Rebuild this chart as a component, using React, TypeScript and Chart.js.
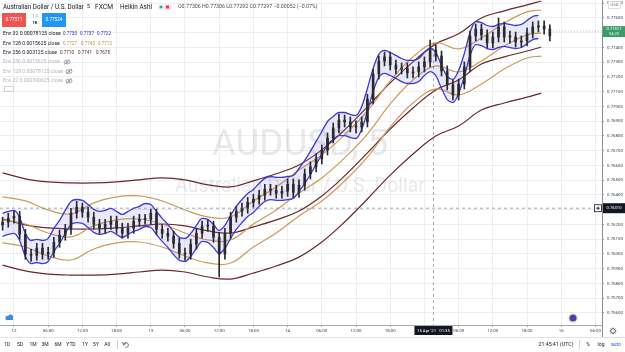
import React, { useEffect, useRef } from "react";
import { Chart, registerables } from "chart.js";

Chart.register(...registerables);

const FONT = "Roboto, 'Liberation Sans', 'DejaVu Sans', sans-serif";

// ---- data (hours since 12 Apr 2021 00:00 UTC), hourly Heikin Ashi summary ----
const hours = [
  -2, -1, 0, 1, 2, 3, 4, 5, 6, 7, 8, 9, 10, 11, 12, 13, 14, 15, 16, 17, 18, 19, 20, 21, 22, 23, 24,
  25, 26, 27, 28, 29, 30, 31, 32, 33, 34, 35, 36, 37, 38, 39, 40, 41, 42, 43, 44, 45, 46, 47, 48,
  49, 50, 51, 52, 53, 54, 55, 56, 57, 58, 59, 60, 61, 62, 63, 64, 65, 66, 67, 68, 69, 70, 71, 72,
  73, 74, 75, 76, 77, 78, 79, 80, 81, 82, 83, 84, 85, 86, 87, 88, 89, 90, 91, 92, 93, 94,
];
const haFirstOpen = 0.76197;
const haClose = [
  0.76215, 0.76242, 0.76256, 0.76133, 0.75998, 0.75991, 0.76039, 0.75998, 0.76011, 0.76079,
  0.76127, 0.76167, 0.76276, 0.76317, 0.76283, 0.76249, 0.76201, 0.76174, 0.76201, 0.76222,
  0.76174, 0.7614, 0.76174, 0.76222, 0.76235, 0.76235, 0.76276, 0.76167, 0.7614, 0.7612,
  0.76072, 0.76005, 0.75998, 0.76066, 0.7614, 0.76188, 0.76188, 0.76113, 0.75998, 0.7614,
  0.76249, 0.76289, 0.7631, 0.7635, 0.76371, 0.76398, 0.76439, 0.76432, 0.76411, 0.76425,
  0.76472, 0.76418, 0.76466, 0.76542, 0.7659, 0.76644, 0.76705, 0.76786, 0.76854, 0.76908,
  0.76895, 0.76861, 0.76861, 0.76895, 0.77051, 0.7722, 0.77308, 0.77336, 0.77281, 0.77254,
  0.77261, 0.77227, 0.77234, 0.77268, 0.77302, 0.77383, 0.77342, 0.77241, 0.77146, 0.77078,
  0.77152, 0.77268, 0.77478, 0.77525, 0.77485, 0.7743, 0.77471, 0.77539, 0.77471, 0.77471,
  0.77437, 0.77444, 0.77498, 0.77539, 0.77546, 0.77525, 0.77478,
];
const haHigh = [
  0.76249, 0.76276, 0.76289, 0.76289, 0.76167, 0.76032, 0.76072, 0.76072, 0.76045, 0.76113,
  0.76161, 0.76201, 0.7631, 0.76357, 0.76344, 0.76317, 0.76283, 0.76235, 0.76235, 0.76256,
  0.76256, 0.76208, 0.76208, 0.76256, 0.76269, 0.76269, 0.76303, 0.76303, 0.76201, 0.76174,
  0.76154, 0.76106, 0.76039, 0.761, 0.76174, 0.76222, 0.76228, 0.76222, 0.76147, 0.76174,
  0.76283, 0.76323, 0.76344, 0.76384, 0.76405, 0.76432, 0.76472, 0.76472, 0.76466, 0.76459,
  0.76508, 0.76508, 0.76502, 0.76576, 0.76624, 0.76678, 0.76739, 0.7682, 0.76888, 0.76949,
  0.76942, 0.76929, 0.76902, 0.76929, 0.77083, 0.77254, 0.77342, 0.77369, 0.77369, 0.77315,
  0.77295, 0.77295, 0.77268, 0.77302, 0.77336, 0.77451, 0.77417, 0.77376, 0.77275, 0.7718,
  0.77186, 0.77302, 0.77512, 0.77559, 0.77559, 0.77519, 0.77505, 0.776, 0.77573, 0.77512,
  0.77505, 0.77478, 0.77532, 0.77573, 0.7758, 0.7758, 0.77553,
];
const haLow = [
  0.76161, 0.76181, 0.76208, 0.761, 0.75964, 0.7595, 0.75957, 0.75964, 0.75964, 0.75978,
  0.76045, 0.76093, 0.76133, 0.76242, 0.76249, 0.76215, 0.76167, 0.7614, 0.7614, 0.76167,
  0.7614, 0.76106, 0.76106, 0.7614, 0.76188, 0.76201, 0.76201, 0.76133, 0.76106, 0.76086,
  0.76039, 0.75971, 0.75957, 0.75964, 0.76032, 0.76106, 0.76154, 0.76079, 0.75844, 0.75964,
  0.76106, 0.76215, 0.76256, 0.76276, 0.76317, 0.76337, 0.76364, 0.76398, 0.76378, 0.76378,
  0.76391, 0.76384, 0.76384, 0.76432, 0.76508, 0.76556, 0.7661, 0.76671, 0.76753, 0.7682,
  0.76861, 0.76827, 0.7682, 0.76827, 0.76861, 0.77017, 0.77186, 0.77275, 0.77247, 0.7722,
  0.7722, 0.77193, 0.77193, 0.772, 0.77234, 0.77268, 0.77308, 0.77207, 0.77112, 0.77044,
  0.77044, 0.77119, 0.77234, 0.77444, 0.77451, 0.77397, 0.77397, 0.77437, 0.77437, 0.7743,
  0.77403, 0.77403, 0.7741, 0.77464, 0.77505, 0.77491, 0.77444,
];

// Env 32 basis (hourly, same hours as candles, up to hour 92)
const env32Basis = [
  0.76197, 0.7621, 0.76217, 0.76169, 0.76061, 0.76013, 0.7602, 0.76013, 0.76027, 0.76095,
  0.76149, 0.76217, 0.76278, 0.76291, 0.76285, 0.76257, 0.76224, 0.7621, 0.76217, 0.76231,
  0.7621, 0.7619, 0.7621, 0.76231, 0.76244, 0.76264, 0.76257, 0.7621, 0.76163, 0.76122,
  0.76074, 0.76034, 0.76027, 0.76061, 0.76115, 0.76163, 0.76156, 0.76122, 0.76081, 0.76115,
  0.76183, 0.76244, 0.76291, 0.76332, 0.76359, 0.764, 0.76434, 0.76447, 0.76441, 0.76441,
  0.76447, 0.76454, 0.76502, 0.76556, 0.76617, 0.76685, 0.76752, 0.7682, 0.76854, 0.76881,
  0.76881, 0.76868, 0.76861, 0.76922, 0.77044, 0.7718, 0.77275, 0.77302, 0.77288, 0.77268,
  0.77247, 0.77234, 0.77234, 0.77247, 0.77288, 0.77315, 0.77288, 0.772, 0.77125, 0.77105,
  0.77166, 0.77281, 0.77424, 0.77498, 0.77491, 0.77471, 0.77464, 0.77478, 0.77485, 0.77478,
  0.77471, 0.77478, 0.77505, 0.77532, 0.77539,
];
// slow envelopes sampled every 4 hours
const slowHours = [-2, 2, 6, 10, 14, 18, 22, 26, 30, 34, 38, 42, 46, 50, 54, 58, 62, 66, 70, 74, 78, 82, 86, 90, 92.5];
const env128Basis = [
  0.76231, 0.76203, 0.76142, 0.76115, 0.7619, 0.76231, 0.76237, 0.76203, 0.76142, 0.76095,
  0.76095, 0.76203, 0.76298, 0.76413, 0.76515, 0.76651, 0.76813, 0.77017, 0.7718, 0.77275,
  0.77234, 0.77308, 0.7741, 0.77485, 0.77498,
];
const env256Basis = [
  0.76237, 0.76197, 0.76176, 0.76169, 0.76169, 0.76176, 0.7619, 0.76203, 0.7619, 0.76156,
  0.76142, 0.76183, 0.76231, 0.76291, 0.76393, 0.76529, 0.76685, 0.76847, 0.7699, 0.77112,
  0.7718, 0.77288, 0.77336, 0.77376, 0.77403,
];
const ENV32_OFFSET = 0.00078125;
const ENV128_OFFSET = 0.0015625;
const ENV256_OFFSET = 0.003125;

const xTickHours = [0, 6, 12, 18, 24, 30, 36, 42, 48, 54, 60, 66, 72, 78, 84, 90, 96, 102];
const xTickLabels = ["12", "06:00", "12:00", "18:00", "13", "06:00", "12:00", "18:00", "14", "06:00", "12:00", "18:00", "15", "06:00", "12:00", "18:00", "16", "06:00"];
const yTicks = [
  0.756, 0.757, 0.758, 0.759, 0.76, 0.761, 0.762, 0.763, 0.764, 0.765, 0.766,
  0.767, 0.768, 0.769, 0.77, 0.771, 0.772, 0.773, 0.774, 0.775, 0.776, 0.777,
];

const CROSS_HOUR = 73.583;
const CROSS_PRICE = 0.7631;
const LAST_PRICE = 0.77511;

// ---- colours ----
const C_CANDLE = "#2a2a2a";
const C_ENV32 = "#3b3bcf";
const C_ENV128 = "#cc9b5a";
const C_ENV256 = "#6b2828";

function fitText(ctx: CanvasRenderingContext2D, text: string, x: number, y: number, w: number, color: string, align: CanvasTextAlign = "left", weight = "normal") {
  ctx.font = `${weight} 10px ${FONT}`;
  const m = ctx.measureText(text).width || 1;
  const size = (10 * w) / m;
  ctx.font = `${weight} ${size}px ${FONT}`;
  ctx.fillStyle = color;
  ctx.textAlign = align;
  ctx.textBaseline = "middle";
  ctx.fillText(text, x, y);
}

function sizedText(ctx: CanvasRenderingContext2D, text: string, x: number, y: number, size: number, color: string, align: CanvasTextAlign = "left", weight = "normal") {
  ctx.font = `${weight} ${size}px ${FONT}`;
  ctx.fillStyle = color;
  ctx.textAlign = align;
  ctx.textBaseline = "middle";
  ctx.fillText(text, x, y);
}

function eye(ctx: CanvasRenderingContext2D, x: number, y: number) {
  ctx.save();
  ctx.strokeStyle = "#8f929b";
  ctx.fillStyle = "#8f929b";
  ctx.lineWidth = 0.8;
  ctx.beginPath();
  ctx.ellipse(x, y, 3, 1.9, 0, 0, Math.PI * 2);
  ctx.stroke();
  ctx.beginPath();
  ctx.arc(x, y, 0.9, 0, Math.PI * 2);
  ctx.fill();
  ctx.beginPath();
  ctx.moveTo(x - 3, y + 2.5);
  ctx.lineTo(x + 3, y - 2.5);
  ctx.stroke();
  ctx.restore();
}

const overlayPlugin = {
  id: "tvOverlay",
  beforeDatasetsDraw(chart: any) {
    const { ctx, chartArea } = chart;
    ctx.save();
    ctx.beginPath();
    ctx.rect(chartArea.left, chartArea.top, chartArea.right - chartArea.left, chartArea.bottom - chartArea.top);
    ctx.clip();
    fitText(ctx, "AUDUSD, 5", 300, 146, 176, "rgba(120,123,134,0.17)", "center");
    fitText(ctx, "Australian Dollar / U.S. Dollar", 300, 187, 250, "rgba(120,123,134,0.17)", "center");
    ctx.restore();
  },
  afterDatasetsDraw(chart: any) {
    const { ctx, chartArea, scales } = chart;
    const cx = scales.x.getPixelForValue(CROSS_HOUR);
    const cy = scales.y.getPixelForValue(CROSS_PRICE);
    const py = scales.y.getPixelForValue(LAST_PRICE);
    ctx.save();
    ctx.strokeStyle = "rgba(110,113,124,0.75)";
    ctx.lineWidth = 0.8;
    ctx.setLineDash([3, 3]);
    ctx.beginPath();
    ctx.moveTo(cx, chartArea.top);
    ctx.lineTo(cx, chartArea.bottom);
    ctx.moveTo(chartArea.left, cy);
    ctx.lineTo(chartArea.right, cy);
    ctx.stroke();
    ctx.strokeStyle = "rgba(60,150,100,0.6)";
    ctx.setLineDash([1, 2]);
    ctx.beginPath();
    ctx.moveTo(scales.x.getPixelForValue(hours[hours.length - 1]), py);
    ctx.lineTo(chartArea.right, py);
    ctx.stroke();
    ctx.restore();
  },
  afterDraw(chart: any) {
    const { ctx, chartArea, scales } = chart;
    ctx.save();
    // ---- top-left legend ----
    fitText(ctx, "Australian Dollar / U.S. Dollar", 3, 7, 81, "#131722");
    fitText(ctx, "5", 87, 7, 3, "#131722");
    fitText(ctx, "FXCM", 95, 7, 18, "#131722");
    fitText(ctx, "Heikin Ashi", 120, 7, 32, "#131722");
    ctx.fillStyle = "rgba(38,166,154,0.25)";
    ctx.beginPath();
    ctx.arc(161, 7, 2.6, 0, Math.PI * 2);
    ctx.fill();
    ctx.fillStyle = "#26a69a";
    ctx.beginPath();
    ctx.arc(161, 7, 1.3, 0, Math.PI * 2);
    ctx.fill();
    ctx.fillStyle = "rgba(242,54,69,0.18)";
    ctx.fillRect(164, 4.5, 7, 5);
    ctx.fillStyle = "#f23645";
    ctx.fillRect(166, 5.5, 3, 3);
    fitText(ctx, "O0.77306 H0.77306 L0.77292 C0.77297 \u22120.00052 (\u22120.07%)", 178, 7, 140, "#4a4d57");

    ctx.fillStyle = "#ef5350";
    ctx.fillRect(2, 13, 24, 14);
    fitText(ctx, "0.77511", 14, 20, 17, "#ffffff", "center");
    fitText(ctx, "1.3", 35, 15.5, 6, "#9598a1", "center");
    fitText(ctx, "1K", 35, 23, 5, "#131722", "center", "bold");
    ctx.fillStyle = "#2196f3";
    ctx.fillRect(42, 13, 24, 14);
    fitText(ctx, "0.77524", 54, 20, 17, "#ffffff", "center");

    const rows = [34, 43.5, 53, 62, 71.5, 81];
    fitText(ctx, "Env 32 0.00078125 close", 3, rows[0], 58, "#131722");
    fitText(ctx, "0.7730", 63, rows[0], 14, "#2b2bb0");
    fitText(ctx, "0.7737", 80, rows[0], 14, "#2b2bb0");
    fitText(ctx, "0.7722", 97, rows[0], 14, "#2b2bb0");
    fitText(ctx, "Env 128 0.0015625 close", 3, rows[1], 57, "#131722");
    fitText(ctx, "0.7727", 63, rows[1], 14, "#c28c3e");
    fitText(ctx, "0.7743", 81, rows[1], 14, "#c28c3e");
    fitText(ctx, "0.7712", 98, rows[1], 14, "#c28c3e");
    fitText(ctx, "Env 256 0.003125 close", 3, rows[2], 54, "#131722");
    fitText(ctx, "0.7710", 60, rows[2], 14, "#5a1c1c");
    fitText(ctx, "0.7741", 78, rows[2], 14, "#5a1c1c");
    fitText(ctx, "0.7678", 96, rows[2], 14, "#5a1c1c");
    fitText(ctx, "Env 256 0.0015625 close", 3, rows[3], 57, "#b2b5be");
    eye(ctx, 67, rows[3]);
    fitText(ctx, "Env 128 0.00078125 close", 3, rows[4], 60, "#b2b5be");
    eye(ctx, 69, rows[4]);
    fitText(ctx, "Env 32 0.000390625 close", 3, rows[5], 60, "#b2b5be");
    eye(ctx, 69, rows[5]);
    ctx.strokeStyle = "#c7c9d0";
    ctx.lineWidth = 0.8;
    ctx.strokeRect(4.5, 86.5, 9, 5);

    // ---- price axis extras ----
    const right = chartArea.right;
    ctx.strokeStyle = "#8d8f96";
    ctx.lineWidth = 1;
    ctx.beginPath();
    ctx.moveTo(right + 0.5, chartArea.bottom);
    ctx.lineTo(right + 0.5, 338);
    ctx.stroke();

    ctx.fillStyle = "#ffffff";
    ctx.fillRect(608, 1.5, 13, 7);
    ctx.strokeStyle = "#c4c6cc";
    ctx.lineWidth = 0.6;
    ctx.strokeRect(608.5, 1.5, 12, 7);
    fitText(ctx, "USD", 614.5, 5, 8, "#6a6d78", "center");

    const py = scales.y.getPixelForValue(LAST_PRICE);
    ctx.fillStyle = "#3d9a6a";
    ctx.fillRect(603, py - 5, 22, 11);
    fitText(ctx, "0.77511", 614, py - 2, 15, "#ffffff", "center");
    fitText(ctx, "04:20", 614, py + 3, 10, "#e8f5ee", "center");

    const cy = scales.y.getPixelForValue(CROSS_PRICE);
    ctx.fillStyle = "#131722";
    ctx.fillRect(603, cy - 5, 22, 10);
    fitText(ctx, "0.76310", 614, cy, 15, "#ffffff", "center");
    ctx.fillStyle = "#ffffff";
    ctx.fillRect(594.5, cy - 3.5, 7, 7);
    ctx.strokeStyle = "#131722";
    ctx.lineWidth = 0.8;
    ctx.strokeRect(594.5, cy - 3.5, 7, 7);
    ctx.beginPath();
    ctx.moveTo(596, cy);
    ctx.lineTo(600, cy);
    ctx.moveTo(598, cy - 1.8);
    ctx.lineTo(598, cy + 1.8);
    ctx.stroke();

    // ---- time axis crosshair label ----
    const cx = scales.x.getPixelForValue(CROSS_HOUR);
    ctx.fillStyle = "#131722";
    ctx.fillRect(cx - 19, 326, 38, 9);
    fitText(ctx, "15 Apr '21   01:35", cx, 330.5, 33, "#ffffff", "center");

    // gear
    ctx.strokeStyle = "#50535e";
    ctx.lineWidth = 0.9;
    ctx.beginPath();
    ctx.arc(613, 331, 2.3, 0, Math.PI * 2);
    ctx.stroke();
    for (let k = 0; k < 8; k++) {
      const a = (k * Math.PI) / 4;
      ctx.beginPath();
      ctx.moveTo(613 + Math.cos(a) * 2.3, 331 + Math.sin(a) * 2.3);
      ctx.lineTo(613 + Math.cos(a) * 3.4, 331 + Math.sin(a) * 3.4);
      ctx.stroke();
    }

    // event icons
    ctx.fillStyle = "rgba(255,214,120,0.45)";
    ctx.beginPath();
    ctx.arc(573, 318, 5.5, 0, Math.PI * 2);
    ctx.fill();
    ctx.fillStyle = "#4b3fb5";
    ctx.beginPath();
    ctx.arc(573, 318, 3.6, 0, Math.PI * 2);
    ctx.fill();
    ctx.fillStyle = "#3d8fd9";
    ctx.beginPath();
    ctx.arc(7.5, 318, 2.2, 0, Math.PI * 2);
    ctx.arc(10.5, 317, 2.6, 0, Math.PI * 2);
    ctx.fill();
    ctx.fillRect(6, 318, 7, 2);

    // ---- bottom toolbar ----
    ctx.strokeStyle = "#e0e3eb";
    ctx.lineWidth = 1;
    ctx.beginPath();
    ctx.moveTo(0, 337.5);
    ctx.lineTo(625, 337.5);
    ctx.stroke();
    const ranges: [string, number][] = [["1D", 7], ["5D", 20], ["1M", 33], ["3M", 45], ["6M", 58], ["YTD", 71], ["1Y", 85], ["5Y", 96], ["All", 107]];
    ranges.forEach(([t, x]) => sizedText(ctx, t, x, 344.5, 5, "#131722", "center"));
    ctx.strokeStyle = "#d1d4dc";
    ctx.beginPath();
    ctx.moveTo(117.5, 340);
    ctx.lineTo(117.5, 349);
    ctx.moveTo(579.5, 340);
    ctx.lineTo(579.5, 349);
    ctx.stroke();
    ctx.strokeStyle = "#50535e";
    ctx.lineWidth = 0.8;
    ctx.beginPath();
    ctx.arc(126, 345, 2.4, Math.PI * 0.9, Math.PI * 2.6);
    ctx.stroke();
    ctx.beginPath();
    ctx.moveTo(122.5, 342);
    ctx.lineTo(123.6, 344.5);
    ctx.lineTo(126, 343.4);
    ctx.stroke();
    fitText(ctx, "21:45:41 (UTC)", 556, 344.5, 35, "#131722", "center");
    sizedText(ctx, "%", 588, 344.5, 5, "#131722", "center");
    sizedText(ctx, "log", 601, 344.5, 5, "#131722", "center");
    sizedText(ctx, "auto", 616, 344.5, 5, "#2962ff", "center");
    ctx.restore();
  },
};

export default function App() {
  const ref = useRef<HTMLCanvasElement>(null);
  useEffect(() => {
    document.body.style.margin = "0";
    const opens = haClose.map((c, i) => (i === 0 ? haFirstOpen : haClose[i - 1]));
    const wickData = hours.map((h, i) => ({ x: h, y: [haLow[i], haHigh[i]] }));
    const bodyData = hours.map((h, i) => ({ x: h, y: [opens[i], haClose[i]] }));
    const e32u = env32Basis.map((b, i) => ({ x: hours[i], y: b + ENV32_OFFSET }));
    const e32l = env32Basis.map((b, i) => ({ x: hours[i], y: b - ENV32_OFFSET }));
    const band = (arr: number[], off: number) => arr.map((b, i) => ({ x: slowHours[i], y: b + off }));

    const slowLine = (data: any, color: string, order: number) => ({
      type: "line",
      data,
      borderColor: color,
      borderWidth: 1.2,
      pointRadius: 0,
      tension: 0.4,
      fill: false,
      order,
    });

    const chart = new Chart(ref.current as HTMLCanvasElement, {
      type: "bar",
      data: {
        datasets: [
          { type: "bar", data: wickData as any, backgroundColor: C_CANDLE, barThickness: 1, grouped: false, order: 0, borderWidth: 0 },
          { type: "bar", data: bodyData as any, backgroundColor: C_CANDLE, barThickness: 2, grouped: false, minBarLength: 1, order: 0, borderWidth: 0 },
          {
            type: "line",
            data: e32u,
            borderColor: C_ENV32,
            borderWidth: 1.3,
            pointRadius: 0,
            cubicInterpolationMode: "monotone",
            fill: "+1",
            backgroundColor: "rgba(105,105,230,0.15)",
            order: 2,
          },
          {
            type: "line",
            data: e32l,
            borderColor: C_ENV32,
            borderWidth: 1.3,
            pointRadius: 0,
            cubicInterpolationMode: "monotone",
            fill: false,
            order: 2,
          },
          slowLine(band(env128Basis, ENV128_OFFSET), C_ENV128, 3),
          slowLine(band(env128Basis, 0), C_ENV128, 3),
          slowLine(band(env128Basis, -ENV128_OFFSET), C_ENV128, 3),
          slowLine(band(env256Basis, ENV256_OFFSET), C_ENV256, 4),
          slowLine(band(env256Basis, 0), C_ENV256, 4),
          slowLine(band(env256Basis, -ENV256_OFFSET), C_ENV256, 4),
        ] as any,
      },
      options: {
        responsive: false,
        maintainAspectRatio: false,
        animation: false,
        devicePixelRatio: 1,
        events: [],
        layout: { padding: { left: 0, right: 0, top: 0, bottom: 15 } },
        plugins: { legend: { display: false }, tooltip: { enabled: false } },
        scales: {
          x: {
            type: "linear",
            position: "bottom",
            min: -2.45,
            max: 103.15,
            offset: false,
            afterBuildTicks: (s: any) => {
              s.ticks = xTickHours.map((v) => ({ value: v }));
            },
            afterFit: (s: any) => {
              s.height = 12;
              s.paddingLeft = 0;
              s.paddingRight = 0;
            },
            ticks: {
              autoSkip: false,
              maxRotation: 0,
              minRotation: 0,
              padding: 1,
              color: "#3c3f48",
              font: { size: 4.4, family: FONT },
              callback: (_v: any, i: number) => xTickLabels[i],
            },
            grid: { color: "#eceef2", offset: false, tickLength: 2, tickColor: "#9a9ca3" },
            border: { color: "#a9abb2" },
          },
          y: {
            type: "linear",
            position: "right",
            min: 0.75518,
            max: 0.77722,
            beginAtZero: false,
            afterBuildTicks: (s: any) => {
              s.ticks = yTicks.map((v) => ({ value: v }));
            },
            afterFit: (s: any) => {
              s.width = 23;
              s.paddingTop = 0;
              s.paddingBottom = 0;
            },
            ticks: {
              padding: 3,
              color: "#3c3f48",
              font: { size: 4.4, family: FONT },
              callback: (v: any) => Number(v).toFixed(5),
            },
            grid: { color: "#eceef2", tickLength: 2, tickColor: "#9a9ca3" },
            border: { color: "#8d8f96" },
          },
        },
      } as any,
      plugins: [overlayPlugin],
    });
    return () => chart.destroy();
  }, []);
  return (
    <div style={{ width: 625, height: 352, background: "#ffffff" }}>
      <canvas ref={ref} width={625} height={352} style={{ display: "block" }} />
    </div>
  );
}
